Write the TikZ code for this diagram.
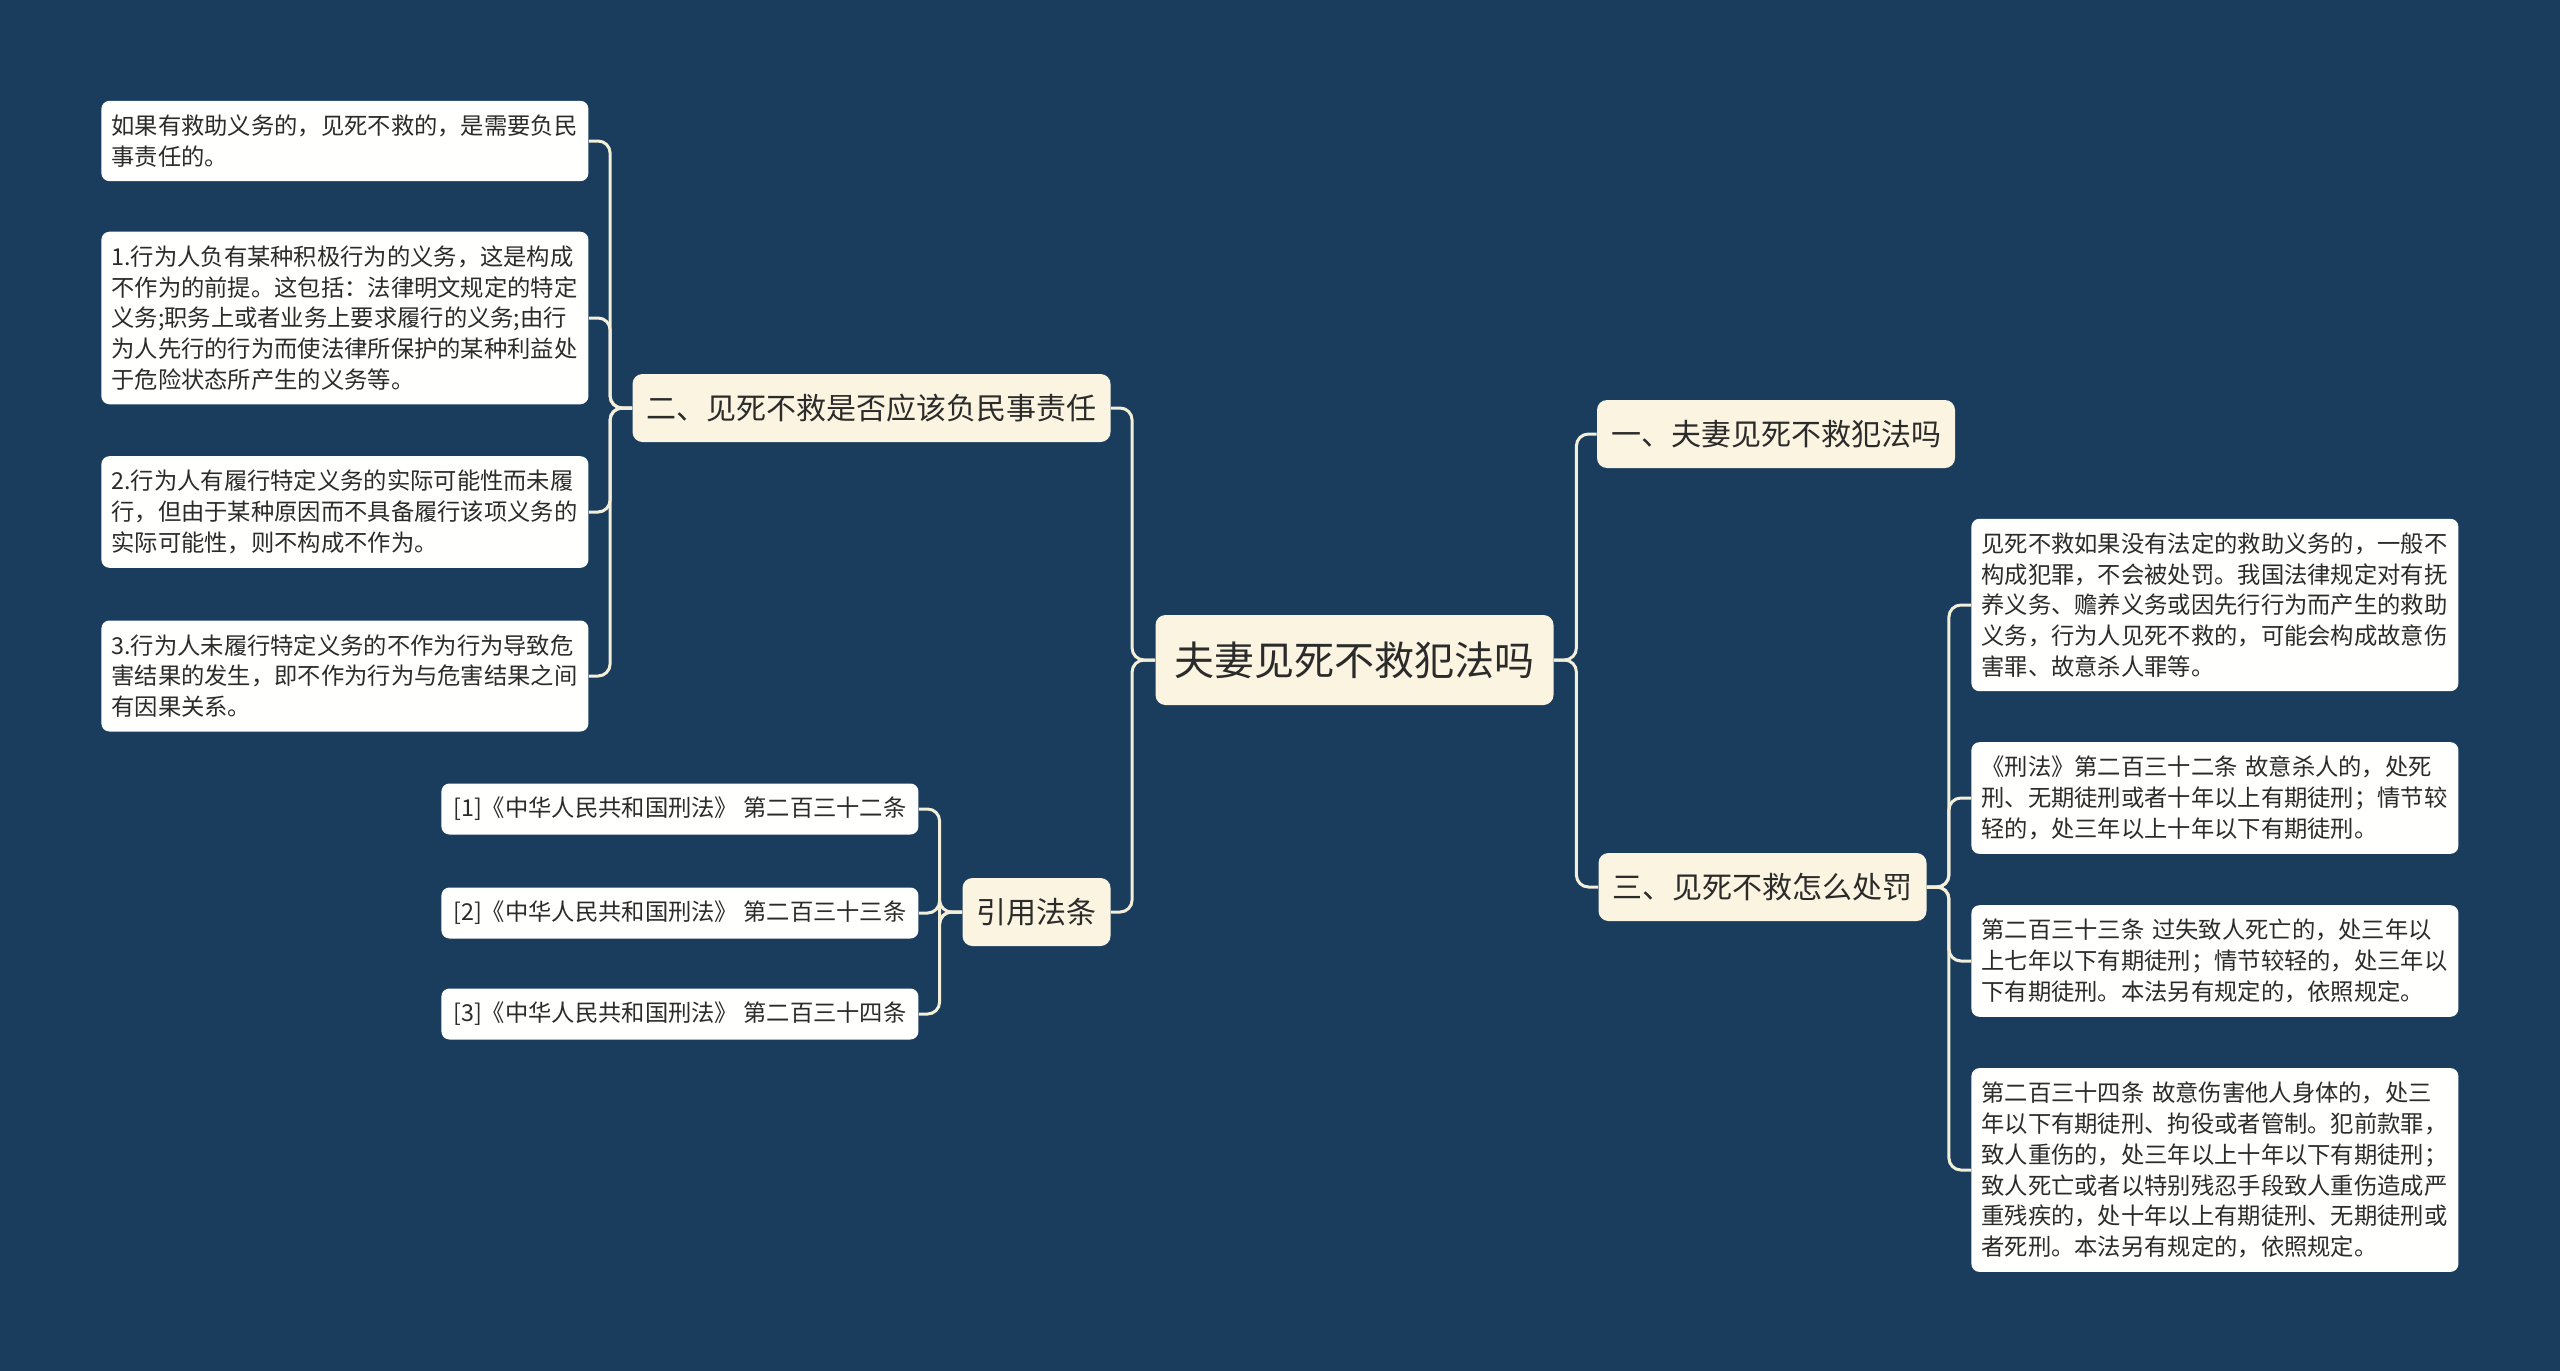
\documentclass[tikz,border=0pt]{standalone}
\usepackage{fontspec}
\setmainfont{Noto Sans CJK SC}
\usepackage{tikz}
\usetikzlibrary{positioning}

\definecolor{bgblue}{HTML}{1A3D5E}
\definecolor{cream}{HTML}{FAF4E0}
\definecolor{paper}{HTML}{FFFFFD}
\definecolor{wire}{HTML}{F4EFD9}
\definecolor{ink}{HTML}{2B2B2B}

\begin{document}
\begin{tikzpicture}[x=0.5pt, y=-0.5pt,
    main/.style = {fill=cream, text=ink, rounded corners=5pt, inner xsep=7pt, inner ysep=0pt,
                   minimum height=34pt, font=\fontsize{15}{19}\selectfont},
    root/.style = {main, inner xsep=9.5pt, minimum height=45pt, font=\fontsize{20}{24}\selectfont},
    leaf/.style = {fill=paper, text=ink, rounded corners=4pt, anchor=west, align=left,
                   text width=233.5pt, inner xsep=5pt, inner ysep=7pt,
                   font=\fontsize{11.65}{15.35}\selectfont},
    cite/.style = {fill=paper, text=ink, rounded corners=4pt, anchor=west,
                   minimum width=238.5pt, minimum height=25.5pt, inner ysep=0pt,
                   font=\fontsize{11.65}{15.35}\selectfont},
    link/.style = {draw=wire, line width=1.5pt, rounded corners=6pt}]

            \fill[bgblue] (0,0) rectangle (2560,1371);

            \node[root] (Root) at (1354.5,660) {夫妻见死不救犯法吗};

            \node[main] (Q2) at (871.5,408) {二、见死不救是否应该负民事责任};
            \node[main] (Law) at (1036.5,912) {引用法条};
            \node[main] (Q1) at (1776,434) {一、夫妻见死不救犯法吗};
            \node[main] (Q3) at (1762.5,887) {三、见死不救怎么处罚};

            \node[leaf] (L1) at (101,141) {如果有救助义务的，见死不救的，是需要负民\\事责任的。};
            \node[leaf] (L2) at (101,318) {1.行为人负有某种积极行为的义务，这是构成\\不作为的前提。这包括：法律明文规定的特定\\义务;职务上或者业务上要求履行的义务;由行\\为人先行的行为而使法律所保护的某种利益处\\于危险状态所产生的义务等。};
            \node[leaf] (L3) at (101,512) {2.行为人有履行特定义务的实际可能性而未履\\行，但由于某种原因而不具备履行该项义务的\\实际可能性，则不构成不作为。};
            \node[leaf] (L4) at (101,676) {3.行为人未履行特定义务的不作为行为导致危\\害结果的发生，即不作为行为与危害结果之间\\有因果关系。};

            \node[cite] (C1) at (441,809) {[1]《中华人民共和国刑法》 第二百三十二条};
            \node[cite] (C2) at (441,913) {[2]《中华人民共和国刑法》 第二百三十三条};
            \node[cite] (C3) at (441,1014) {[3]《中华人民共和国刑法》 第二百三十四条};

            \node[leaf] (R1) at (1971,605) {见死不救如果没有法定的救助义务的，一般不\\构成犯罪，不会被处罚。我国法律规定对有抚\\养义务、赡养义务或因先行行为而产生的救助\\义务，行为人见死不救的，可能会构成故意伤\\害罪、故意杀人罪等。};
            \node[leaf] (R2) at (1971,798) {《刑法》第二百三十二条 故意杀人的，处死\\刑、无期徒刑或者十年以上有期徒刑；情节较\\轻的，处三年以上十年以下有期徒刑。};
            \node[leaf] (R3) at (1971,961) {第二百三十三条 过失致人死亡的，处三年以\\上七年以下有期徒刑；情节较轻的，处三年以\\下有期徒刑。本法另有规定的，依照规定。};
            \node[leaf] (R4) at (1971,1170) {第二百三十四条 故意伤害他人身体的，处三\\年以下有期徒刑、拘役或者管制。犯前款罪，\\致人重伤的，处三年以上十年以下有期徒刑；\\致人死亡或者以特别残忍手段致人重伤造成严\\重残疾的，处十年以上有期徒刑、无期徒刑或\\者死刑。本法另有规定的，依照规定。};

            \draw[link] (Root.east) -- ++(22.5,0) |- (Q1.west);
            \draw[link] (Root.east) -- ++(22.5,0) |- (Q3.west);
            \draw[link] (Root.west) -- ++(-23,0) |- (Q2.east);
            \draw[link] (Root.west) -- ++(-23,0) |- (Law.east);

            \foreach \n in {L1,L2,L3,L4}
                \draw[link] (Q2.west) -- ++(-22,0) |- (\n.east);
            \foreach \n in {C1,C2,C3}
                \draw[link] (Law.west) -- ++(-22.5,0) |- (\n.east);
            \foreach \n in {R1,R2,R3,R4}
                \draw[link] (Q3.east) -- ++(22,0) |- (\n.west);

        \end{tikzpicture}
\end{document}
